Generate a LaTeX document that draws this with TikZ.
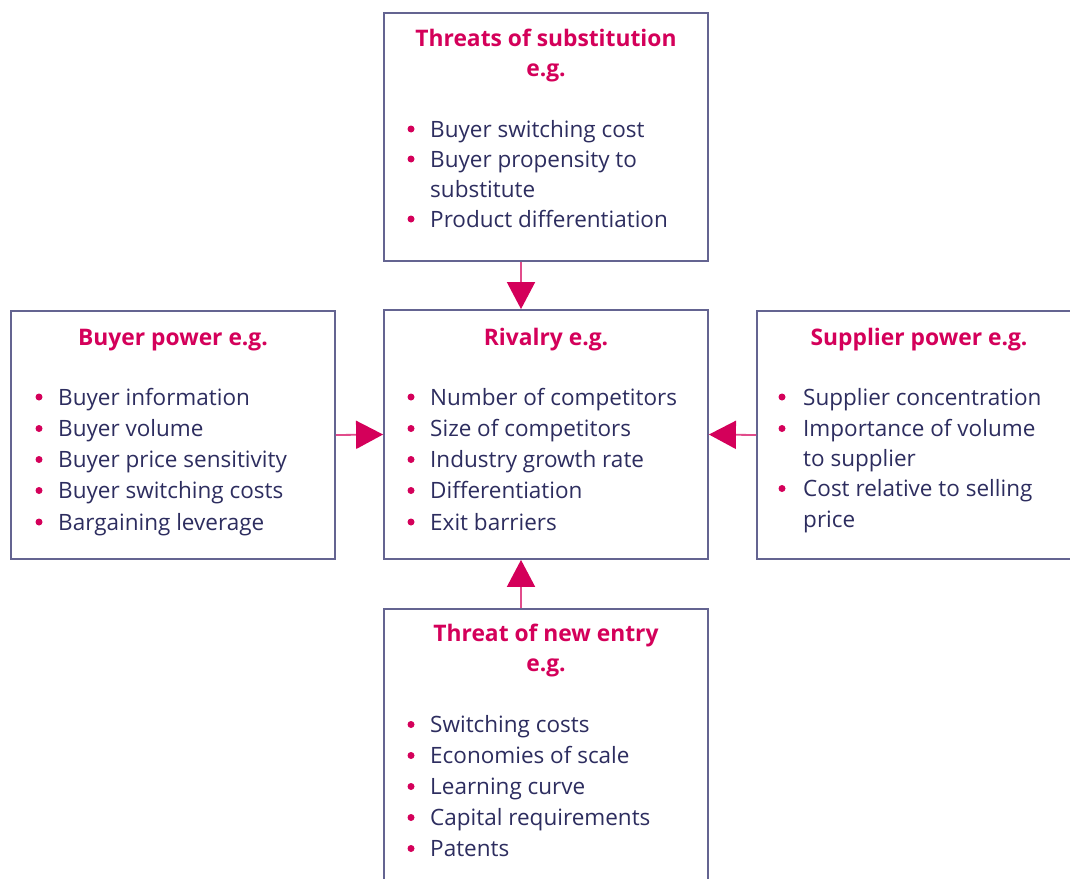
\documentclass[tikz,border=0pt]{standalone}
\usepackage{fontspec}
\setmainfont{Open Sans}
\usetikzlibrary{arrows.meta}
\definecolor{pk}{RGB}{212,0,90}
\definecolor{nv}{RGB}{45,45,95}
\definecolor{bd}{RGB}{100,100,145}
\begin{document}
\begin{tikzpicture}[x=1pt,y=-1pt,
  box/.style={draw=bd, line width=1.8pt, fill=white, minimum width=324pt, inner sep=0pt},
  ttl/.style={text=pk, font=\fontsize{22.8}{30}\selectfont\bfseries, anchor=base, inner sep=0pt},
  itm/.style={text=nv, font=\fontsize{22.5}{30}\selectfont, anchor=base west, inner sep=0pt},
  dot/.style={circle, fill=pk, inner sep=0pt, minimum size=7pt},
  arr/.style={draw=pk!70, line width=1.8pt, -{Triangle[length=27pt,width=28pt,color=pk,fill=pk]}}]
\useasboundingbox (0,0) rectangle (1070,878);
\clip (0,0) rectangle (1070,878);
\fill[white] (0,0) rectangle (1070,878);

% boxes
\node[box, minimum height=248pt] (top) at (546,137) {};
\node[box, minimum height=249pt] (mid) at (546,434.5) {};
\node[box, minimum height=248pt] (lft) at (173,435) {};
\node[box, minimum height=248pt] (rgt) at (919,435) {};
\node[box, minimum height=300pt] (bot) at (546,759) {};
\coordinate (ax) at (521,0);

% connectors
\draw[arr] (top.south -| ax) -- (mid.north -| ax);
\draw[arr] (bot.north -| ax) -- (mid.south -| ax);
\draw[arr] (lft.east) -- (mid.west);
\draw[arr] (rgt.west) -- (mid.east);

% top box text
\node[ttl] (topt1) at (546,46.5) {Threats of substitution};
\node[ttl] (topt2) at (546,76.5) {e.g.};
\foreach \yy [count=\i] in {137, 167, 227}{
  \node[dot] (topd\i) at (411,\yy-8) {};
}
\node[itm] (topi1) at (430,137) {Buyer switching cost};
\node[itm] (topi2) at (430,167) {Buyer propensity to};
\node[itm] (topi3) at (430,197) {substitute};
\node[itm] (topi4) at (430,227) {Product differentiation};

% left box text
\node[ttl] (lftt) at (173,345) {Buyer power e.g.};
\foreach \txt/\yy [count=\i] in {Buyer information/405, Buyer volume/436.5, Buyer price sensitivity/467.5, Buyer switching costs/498.5, Bargaining leverage/530}{
  \node[dot] (lftd\i) at (39,\yy-8) {};
  \node[itm] (lfti\i) at (58,\yy) {\txt};
}

% middle box text
\node[ttl] (midt) at (546,345) {Rivalry e.g.};
\foreach \txt/\yy [count=\i] in {Number of competitors/405, Size of competitors/436.5, Industry growth rate/467.5, Differentiation/498.5, Exit barriers/530}{
  \node[dot] (midd\i) at (411,\yy-8) {};
  \node[itm] (midi\i) at (430,\yy) {\txt};
}

% right box text
\node[ttl] (rgtt) at (919,345) {Supplier power e.g.};
\foreach \yy [count=\i] in {405, 436.5, 496.5}{
  \node[dot] (rgtd\i) at (782,\yy-8) {};
}
\node[itm] (rgti1) at (803,405) {Supplier concentration};
\node[itm] (rgti2) at (803,436.5) {Importance of volume};
\node[itm] (rgti3) at (803,466.5) {to supplier};
\node[itm] (rgti4) at (803,496.5) {Cost relative to selling};
\node[itm] (rgti5) at (803,527) {price};

% bottom box text
\node[ttl] (bott1) at (546,641.5) {Threat of new entry};
\node[ttl] (bott2) at (546,671.5) {e.g.};
\foreach \txt/\yy [count=\i] in {Switching costs/732.5, Economies of scale/763.5, Learning curve/794.5, Capital requirements/825.5, Patents/856.5}{
  \node[dot] (botd\i) at (411,\yy-8) {};
  \node[itm] (boti\i) at (430,\yy) {\txt};
}
\end{tikzpicture}
\end{document}
